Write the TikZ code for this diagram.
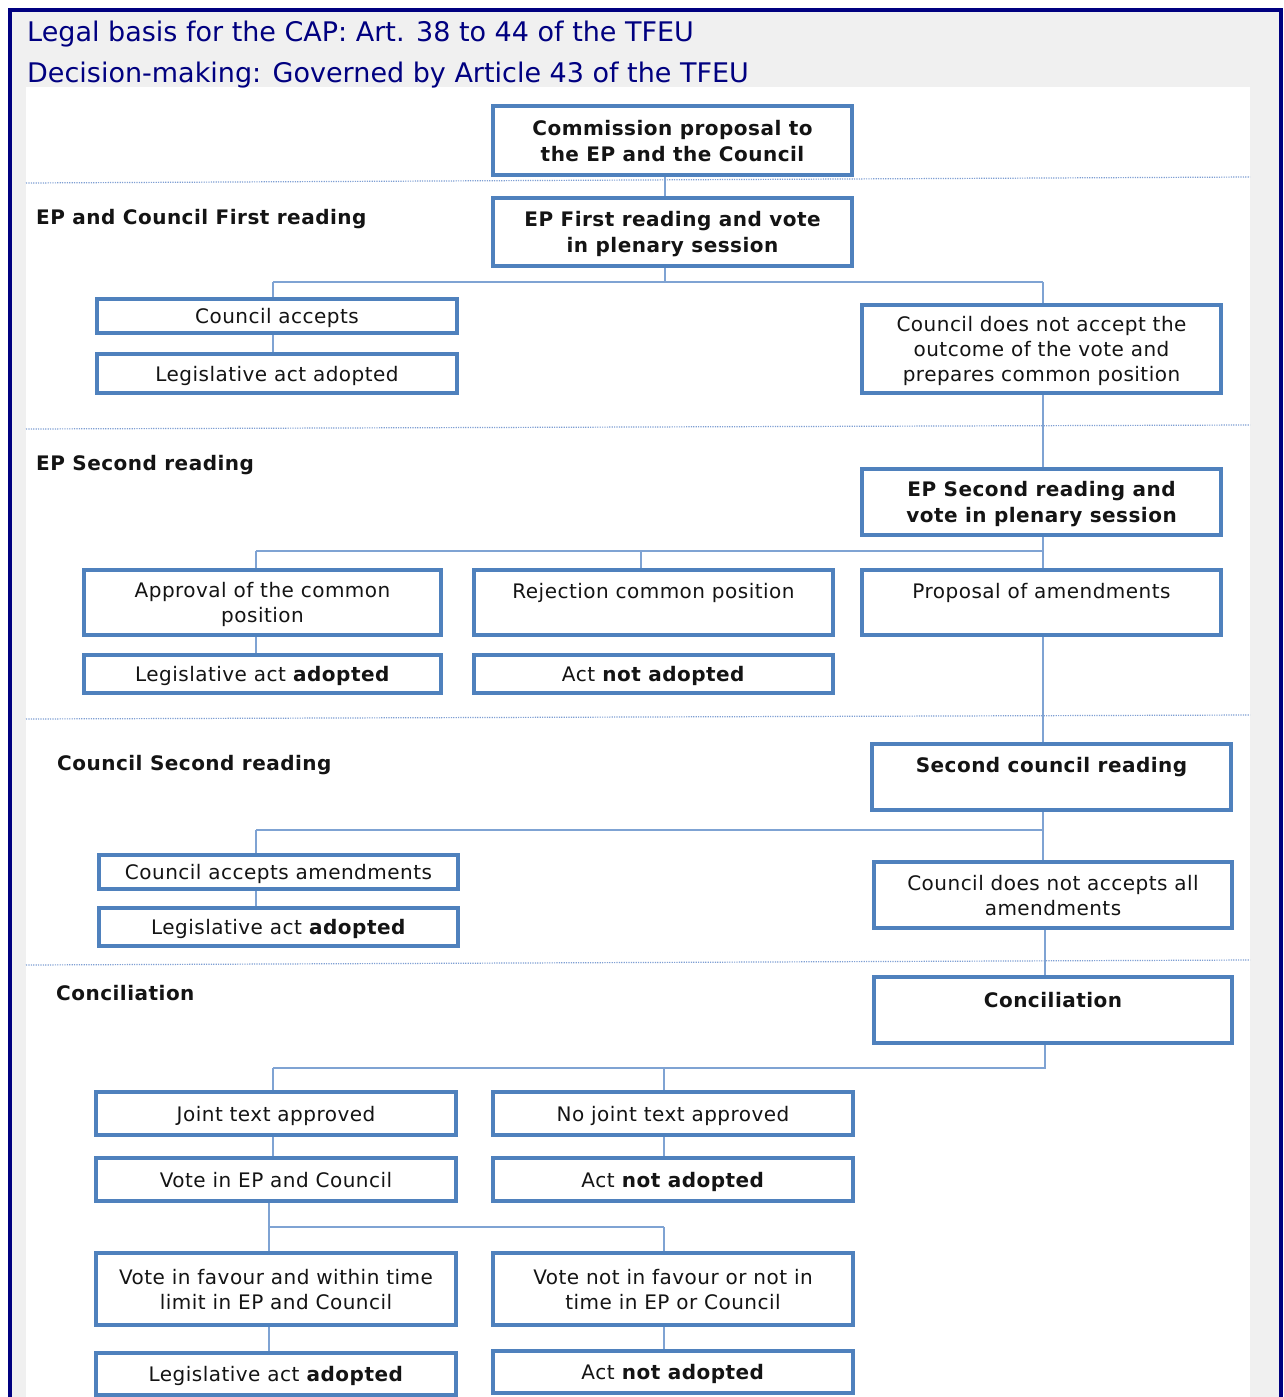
\documentclass[tikz,border=0pt]{standalone}
\usepackage{fontspec}
\setmainfont{DejaVu Sans}
\newfontfamily\boxfont{DejaVu Sans}[LetterSpace=2.4]
\usetikzlibrary{backgrounds}
\definecolor{framec}{HTML}{000080}
\definecolor{bgc}{HTML}{F0F0F0}
\definecolor{boxc}{HTML}{4F81BD}
\definecolor{connc}{HTML}{7FA3D3}
\definecolor{sepc}{HTML}{7F9FD3}
\definecolor{ink}{HTML}{141414}
\begin{document}
\begin{tikzpicture}[x=1pt,y=-1pt,
  stage/.style={draw=boxc, line width=4pt, fill=white, inner sep=0pt, align=center, text=ink,
    text depth=0pt, font=\boxfont\fontsize{20}{25}\selectfont},
  bstage/.style={stage, font=\boxfont\fontsize{20}{26}\selectfont\bfseries},
  toptext/.style={anchor=center, text=ink, inner sep=0pt, font=\boxfont\fontsize{20}{25}\selectfont},
  conn/.style={draw=connc, line width=1.5pt},
  sepline/.style={draw=sepc, line width=1.2pt, dash pattern=on 1.2pt off 1.2pt},
  section/.style={anchor=base west, inner sep=0pt, text=ink, font=\boxfont\fontsize{20}{25}\selectfont\bfseries},
  titletext/.style={anchor=base west, inner sep=0pt, text=framec, font=\fontsize{27}{34}\selectfont}]
\useasboundingbox (0,0) rectangle (1283,1397);
\begin{scope}[on background layer]
  \fill[bgc] (8,8) rectangle (1283,1397);
  \draw[framec, line width=4pt] (10,1397) -- (10,10) -- (1281,10) -- (1281,1397);
  \fill[white] (26,87) rectangle (1250,1397);
  \draw[sepline] (26,183) -- (1250,177);
  \draw[sepline] (26,429) -- (1250,425);
  \draw[sepline] (26,719) -- (1250,715);
  \draw[sepline] (26,965) -- (1250,960);
\end{scope}

% titles
\node[titletext] (t1) at (27,42) {Legal basis for the CAP: Art. 38 to 44 of the TFEU};
\node[titletext] (t2) at (27,82) {Decision-making: Governed by Article 43 of the TFEU};

% section labels
\node[section] (s1) at (36,224) {EP and Council First reading};
\node[section] (s2) at (36,470) {EP Second reading};
\node[section] (s3) at (57,770) {Council Second reading};
\node[section] (s4) at (56,1000) {Conciliation};

% boxes
\node[bstage, minimum width=359, minimum height=69] (com) at (672.5,140.5) {Commission proposal to\\the EP and the Council};
\node[bstage, minimum width=359, minimum height=68] (ep1) at (672.5,232) {EP First reading and vote\\in plenary session};
\node[stage, minimum width=360, minimum height=34] (ca1) at (277,316) {Council accepts};
\node[stage, minimum width=360, minimum height=39] (la1) at (277,373.5) {Legislative act adopted};
\node[stage, minimum width=359, minimum height=88] (cna) at (1041.5,349) {Council does not accept the\\outcome of the vote and\\prepares common position};
\node[bstage, minimum width=359, minimum height=66] (ep2) at (1041.5,502) {EP Second reading and\\vote in plenary session};
\node[stage, minimum width=357, minimum height=65] (app) at (262.5,602.5) {Approval of the common\\position};
\node[stage, minimum width=357, minimum height=38] (la2) at (262.5,674) {Legislative act \textbf{adopted}};
\node[stage, minimum width=359, minimum height=65,
  label={[toptext, yshift=-25pt]north:Rejection common position}] (rej) at (653.5,602.5) {};
\node[stage, minimum width=359, minimum height=38] (nad2) at (653.5,674) {Act \textbf{not adopted}};
\node[stage, minimum width=359, minimum height=65,
  label={[toptext, yshift=-25pt]north:Proposal of amendments}] (prop) at (1041.5,602.5) {};
\node[stage, minimum width=359, minimum height=66,
  label={[toptext, yshift=-25pt, font=\boxfont\fontsize{20}{25}\selectfont\bfseries]north:Second council reading}] (scr) at (1051.5,777) {};
\node[stage, minimum width=359, minimum height=34] (caa) at (278.5,872) {Council accepts amendments};
\node[stage, minimum width=359, minimum height=38] (la3) at (278.5,927) {Legislative act \textbf{adopted}};
\node[stage, minimum width=358, minimum height=66] (cnaa) at (1053,895) {Council does not accepts all\\amendments};
\node[stage, minimum width=358, minimum height=66,
  label={[toptext, yshift=-25pt, font=\boxfont\fontsize{20}{25}\selectfont\bfseries]north:Conciliation}] (conc) at (1053,1010) {};
\node[stage, minimum width=360, minimum height=43] (jta) at (276,1113.5) {Joint text approved};
\node[stage, minimum width=360, minimum height=43] (vote) at (276,1179.5) {Vote in EP and Council};
\node[stage, minimum width=360, minimum height=43] (njt) at (673,1113.5) {No joint text approved};
\node[stage, minimum width=360, minimum height=43] (nad4) at (673,1179.5) {Act \textbf{not adopted}};
\node[stage, minimum width=360, minimum height=72] (vfav) at (276,1289) {Vote in favour and within time\\limit in EP and Council};
\node[stage, minimum width=360, minimum height=42] (la4) at (276,1374) {Legislative act \textbf{adopted}};
\node[stage, minimum width=360, minimum height=72] (vnf) at (673,1289) {Vote not in favour or not in\\time in EP or Council};
\node[stage, minimum width=360, minimum height=42] (nad5) at (673,1372) {Act \textbf{not adopted}};

% bus points
\coordinate (b1l) at (273,282); \coordinate (b1m) at (665,282); \coordinate (b1r) at (1043,282);
\coordinate (b2l) at (256,551); \coordinate (b2m) at (641,551); \coordinate (b2r) at (1043,551);
\coordinate (b3l) at (256,830); \coordinate (b3r) at (1043,830);
\coordinate (b4l) at (273,1068); \coordinate (b4m) at (664,1068); \coordinate (b4r) at (1045,1068);
\coordinate (b5l) at (269,1227); \coordinate (b5r) at (664,1227);

\begin{scope}[on background layer]
  \draw[conn] (com.south -| b1m) -- (ep1.north -| b1m);
  \draw[conn] (ep1.south -| b1m) -- (b1m);
  \draw[conn] (b1l) -- (b1r);
  \draw[conn] (b1l) -- (ca1.north -| b1l);
  \draw[conn] (ca1.south -| b1l) -- (la1.north -| b1l);
  \draw[conn] (b1r) -- (cna.north -| b1r);
  \draw[conn] (cna.south -| b1r) -- (ep2.north -| b1r);
  \draw[conn] (ep2.south -| b2r) -- (b2r) -- (b2l);
  \draw[conn] (b2l) -- (app.north -| b2l);
  \draw[conn] (b2m) -- (rej.north -| b2m);
  \draw[conn] (b2r) -- (prop.north -| b2r);
  \draw[conn] (app.south -| b2l) -- (la2.north -| b2l);
  \draw[conn] (prop.south -| b2r) -- (scr.north -| b2r);
  \draw[conn] (scr.south -| b3r) -- (b3r) -- (b3l);
  \draw[conn] (b3l) -- (caa.north -| b3l);
  \draw[conn] (caa.south -| b3l) -- (la3.north -| b3l);
  \draw[conn] (b3r) -- (cnaa.north -| b3r);
  \draw[conn] (cnaa.south -| b4r) -- (conc.north -| b4r);
  \draw[conn] (conc.south -| b4r) -- (b4r) -- (b4l);
  \draw[conn] (b4l) -- (jta.north -| b4l);
  \draw[conn] (jta.south -| b4l) -- (vote.north -| b4l);
  \draw[conn] (b4m) -- (njt.north -| b4m);
  \draw[conn] (njt.south -| b4m) -- (nad4.north -| b4m);
  \draw[conn] (vote.south -| b5l) -- (b5l) -- (b5r);
  \draw[conn] (b5l) -- (vfav.north -| b5l);
  \draw[conn] (b5r) -- (vnf.north -| b5r);
  \draw[conn] (vfav.south -| b5l) -- (la4.north -| b5l);
  \draw[conn] (vnf.south -| b5r) -- (nad5.north -| b5r);
\end{scope}
\end{tikzpicture}
\end{document}
